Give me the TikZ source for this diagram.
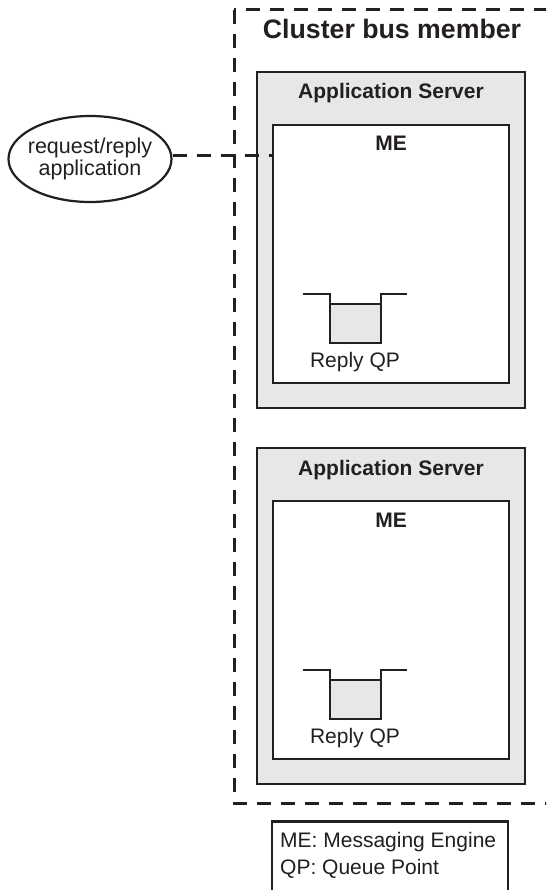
\documentclass[tikz,border=0pt]{standalone}
\usepackage{fontspec}
\setmainfont{Liberation Sans}
\usetikzlibrary{shapes.geometric}
\definecolor{boxgray}{HTML}{E6E7E8}
\definecolor{ink}{HTML}{231F20}
\begin{document}
\begin{tikzpicture}[x=1pt,y=-1pt,
  appbox/.style={draw=ink,line width=2.5pt,fill=boxgray,rectangle,minimum width=268pt,minimum height=336pt,inner sep=0pt},
  mebox/.style={draw=ink,line width=2.5pt,fill=white,rectangle,minimum width=236pt,minimum height=258pt,inner sep=0pt},
  qbox/.style={draw=ink,line width=2.8pt,fill=boxgray,rectangle,minimum width=51pt,minimum height=39pt,inner sep=0pt},
  qline/.style={draw=ink,line width=2.8pt},
  dashline/.style={draw=ink,line width=3pt,dash pattern=on 14pt off 10pt},
  boldlbl/.style={font=\fontsize{21}{25}\selectfont\bfseries,text=ink,anchor=base,inner sep=0pt},
  plainlbl/.style={font=\fontsize{21}{25}\selectfont,text=ink,inner sep=0pt}
]
\useasboundingbox (0,0) rectangle (546,890);
\clip (0,0) rectangle (546,890);
\fill[white] (0,0) rectangle (546,890);

% cluster boundary
\draw[dashline] (234,10) rectangle (570,803);
\node[boldlbl,font=\fontsize{26.7}{32}\selectfont\bfseries] (title) at (392,39) {Cluster bus member};

% server 1
\node[appbox] (as1) at (391,240) {};
\node[boldlbl] (as1lbl) at (391,99) {Application Server};
\node[mebox] (me1) at (391,254) {};
\node[boldlbl] (me1lbl) at (391,151) {ME};
\node[qbox] (q1) at (355.5,323.5) {};
\draw[qline] (303,294) -- (330,294) -- (330,343) -- (381,343) -- (381,294) -- (407,294);
\node[plainlbl,anchor=base] (q1lbl) at (355,367) {Reply QP};

% server 2
\node[appbox] (as2) at (391,616) {};
\node[boldlbl] (as2lbl) at (391,475) {Application Server};
\node[mebox] (me2) at (391,630) {};
\node[boldlbl] (me2lbl) at (391,527) {ME};
\node[qbox] (q2) at (355.5,699.5) {};
\draw[qline] (303,670) -- (330,670) -- (330,719) -- (381,719) -- (381,670) -- (407,670);
\node[plainlbl,anchor=base] (q2lbl) at (355,743) {Reply QP};

% application ellipse
\node[ellipse,draw=ink,line width=2.2pt,fill=white,minimum width=163pt,minimum height=86pt,inner sep=0pt] (app) at (90,159) {};
\node[font=\fontsize{21.5}{22}\selectfont,text=ink,align=center,inner sep=0pt] (applbl) at (app.center) {request/reply\\application};
\draw[dashline] (app.east |- 0,156) -- (me1.west |- 0,156);

% legend
\node[draw=ink,line width=2.5pt,fill=white,rectangle,minimum width=236pt,minimum height=90pt,inner sep=0pt,anchor=north] (legend) at (390,820) {};
\node[plainlbl,anchor=base west] (leg1) at (280,847) {ME: Messaging Engine};
\node[plainlbl,anchor=base west] (leg2) at (280,874) {QP: Queue Point};
\end{tikzpicture}
\end{document}
